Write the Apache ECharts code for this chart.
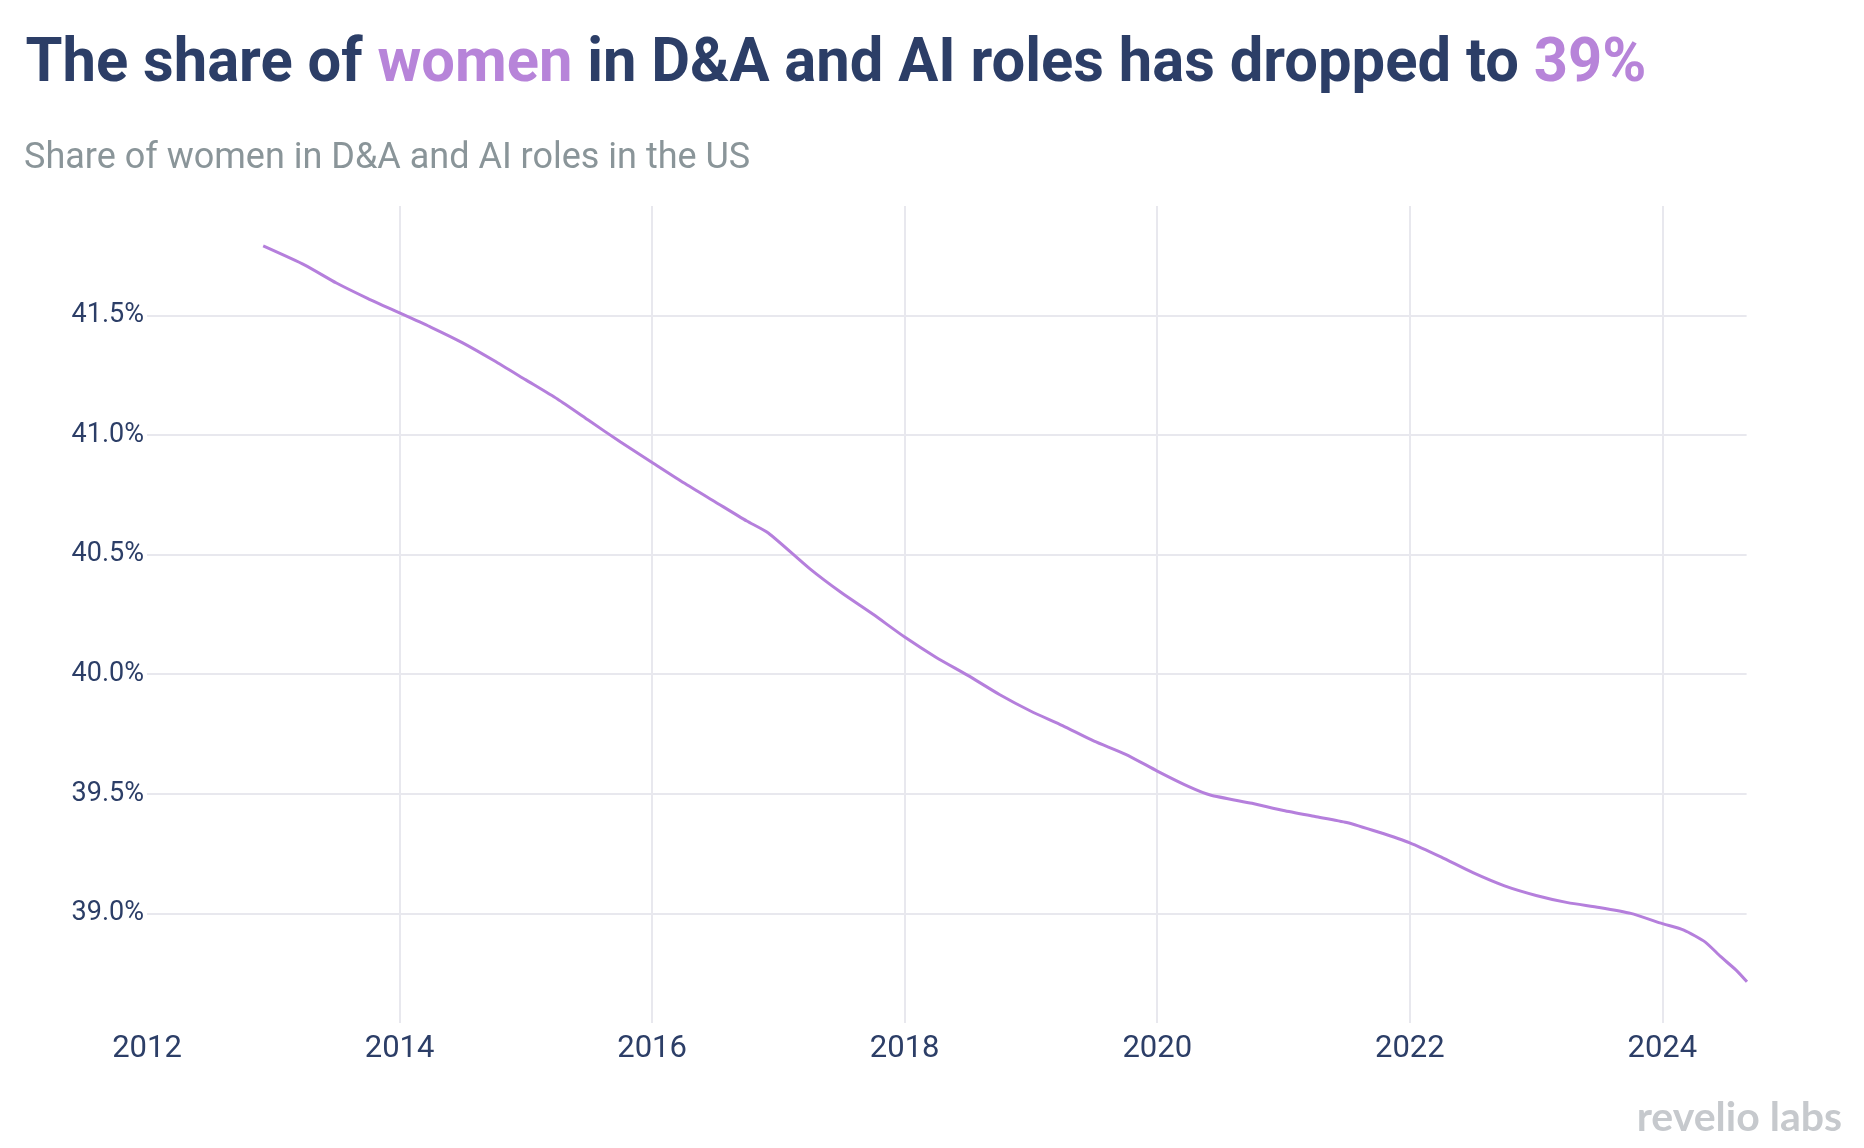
<!DOCTYPE html>
<html><head><meta charset="utf-8">
<script src="https://cdn.jsdelivr.net/npm/echarts@6/dist/echarts.min.js"></script>
<style>html,body{margin:0;padding:0;background:#fff}#c{width:1864px;height:1148px}</style>
</head><body><div id="c"></div>
<script>
// Data (decimal year -> share of women, %)
const years = [2012.92, 2013.25, 2013.50, 2013.75, 2014.00, 2014.25, 2014.50, 2014.75, 2015.00, 2015.25,
  2015.50, 2015.75, 2016.00, 2016.25, 2016.50, 2016.75, 2016.92, 2017.25, 2017.50, 2017.75,
  2018.00, 2018.25, 2018.50, 2018.75, 2019.00, 2019.25, 2019.50, 2019.75, 2020.00, 2020.25,
  2020.42, 2020.75, 2021.00, 2021.25, 2021.50, 2021.75, 2022.00, 2022.25, 2022.50, 2022.75,
  2023.00, 2023.25, 2023.50, 2023.75, 2024.00, 2024.17, 2024.34, 2024.46, 2024.59, 2024.67];
const shares = [41.79, 41.71, 41.635, 41.57, 41.51, 41.45, 41.385, 41.31, 41.23, 41.15,
  41.06, 40.97, 40.885, 40.80, 40.72, 40.64, 40.59, 40.44, 40.34, 40.25,
  40.155, 40.07, 39.995, 39.915, 39.845, 39.785, 39.72, 39.665, 39.595, 39.53,
  39.495, 39.46, 39.43, 39.405, 39.38, 39.34, 39.295, 39.235, 39.17, 39.115,
  39.075, 39.045, 39.025, 39.0, 38.957, 38.93, 38.88, 38.82, 38.76, 38.714];
const titleParts = ['The share of ', 'women', ' in D&A and AI roles has dropped to ', '39%'];
const subtitle = 'Share of women in D&A and AI roles in the US';
const logoText = 'revelio labs';

const NAVY = '#2c3e67', PURPLE = '#b784d9', GRID = '#e8e8ee';
const xMin = 2012, xMax = 2024.667;
const seriesData = years.map((y, i) => [y, shares[i]]);

const chart = echarts.init(document.getElementById('c'), null, {renderer: 'canvas'});
chart.setOption({
  backgroundColor: '#ffffff',
  animation: false,
  grid: [
    {left: 147, right: 117.4, top: 195.7, height: 837.3, containLabel: false},
    {left: 147, right: 117.4, top: 206, bottom: 125, containLabel: false}
  ],
  xAxis: [{
    gridIndex: 0, type: 'value', min: xMin, max: xMax, show: false,
    splitLine: {show: false}
  }, {
    gridIndex: 1, type: 'value', min: xMin, max: xMax, interval: 2,
    axisLine: {show: false}, axisTick: {show: false},
    axisLabel: {
      color: NAVY, fontFamily: 'Roboto', fontSize: 31, margin: 11, showMaxLabel: false,
      formatter: v => Math.abs(v - Math.round(v)) < 1e-6 ? String(Math.round(v)) : ''
    },
    splitLine: {show: true, showMinLine: false, showMaxLine: false, lineStyle: {color: GRID, width: 2}}
  }],
  yAxis: [{
    gridIndex: 0, type: 'value', min: 38.5, max: 42.0, interval: 0.5,
    axisLine: {show: false}, axisTick: {show: false},
    axisLabel: {
      color: NAVY, fontFamily: 'Roboto', fontSize: 27, margin: 3,
      showMinLabel: false, showMaxLabel: false,
      formatter: v => v.toFixed(1) + '%'
    },
    splitLine: {show: true, showMinLine: false, showMaxLine: false, lineStyle: {color: GRID, width: 2}}
  }, {
    gridIndex: 1, type: 'value', min: 0, max: 1, show: false, splitLine: {show: false}
  }],
  series: [{
    type: 'line', xAxisIndex: 0, yAxisIndex: 0,
    data: seriesData, showSymbol: false, smooth: 0.2,
    lineStyle: {color: '#b57fdc', width: 3}
  }],
  graphic: [{
    type: 'text', x: 25.5, y: 34.5, scaleX: 0.963, scaleY: 1,
    style: {
      text: '{a|' + titleParts[0] + '}{b|' + titleParts[1] + '}{a|' + titleParts[2] + '}{b|' + titleParts[3] + '}',
      rich: {
        a: {fontFamily: 'Roboto', fontWeight: 'bold', fontSize: 62, fill: NAVY, color: NAVY},
        b: {fontFamily: 'Roboto', fontWeight: 'bold', fontSize: 62, fill: PURPLE, color: PURPLE}
      }
    }
  }, {
    type: 'text', x: 24, y: 141,
    style: {text: subtitle, font: 'normal 36px Roboto', fill: '#8a9599'}
  }, {
    type: 'text', right: 22, top: 1097,
    style: {text: logoText, font: 'bold 41px Lato', fill: '#c6c9cd'}
  }]
});
</script>
</body></html>
